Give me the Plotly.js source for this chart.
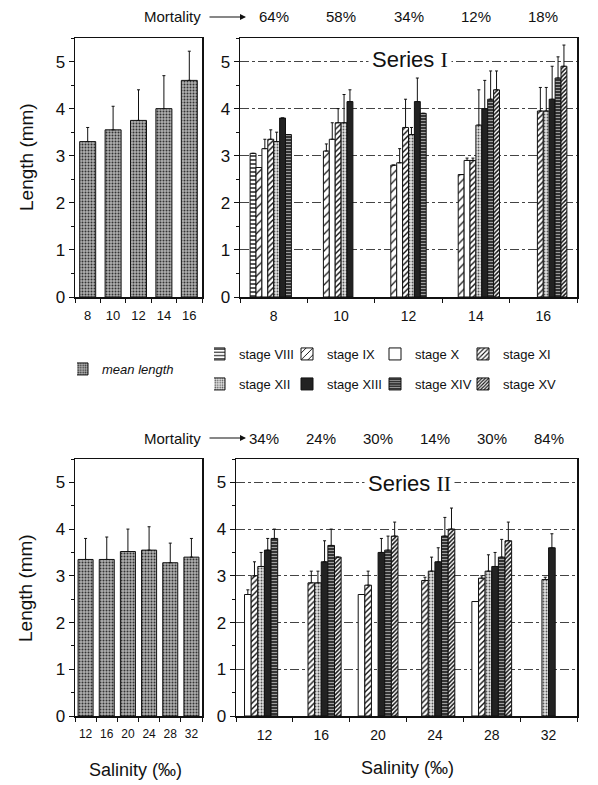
<!DOCTYPE html>
<html>
<head>
<meta charset="utf-8">
<script src="https://cdn.plot.ly/plotly-3.0.1.min.js"></script>
<style>
  html, body { margin: 0; padding: 0; background: #fff; }
  #chart { width: 598px; height: 785px; }
</style>
</head>
<body>
<div id="chart"></div>
<script>
// values (length in mm)
const salinityI = ["8", "10", "12", "14", "16"];
const meanI = [3.3, 3.55, 3.75, 4.0, 4.6];
const meanErrI = [0.3, 0.5, 0.65, 0.7, 0.62];
const mortalityI = ["64%", "58%", "34%", "12%", "18%"];

const salinityII = ["12", "16", "20", "24", "28", "32"];
const meanII = [3.35, 3.35, 3.52, 3.55, 3.28, 3.4];
const meanErrII = [0.45, 0.48, 0.48, 0.5, 0.42, 0.4];
const mortalityII = ["34%", "24%", "30%", "14%", "30%", "84%"];

const stageNames = ["stage VIII", "stage IX", "stage X", "stage XI",
  "stage XII", "stage XIII", "stage XIV", "stage XV"];

// series I: one row per stage (VIII..XV), one column per salinity
const lengthsI = [
  [3.05, null, null, null, null],
  [2.75, 3.1, 2.8, 2.6, null],
  [3.15, 3.35, 2.85, 2.9, null],
  [3.35, 3.7, 3.6, 2.9, 3.95],
  [3.3, 3.7, 3.45, 3.65, 3.95],
  [3.8, 4.15, 4.15, 4.0, 4.2],
  [3.45, null, 3.9, 4.2, 4.65],
  [null, null, null, 4.4, 4.9],
];
const errorsI = [
  [0, null, null, null, null],
  [0, 0.15, 0, 0, null],
  [0.2, 0.35, 0.3, 0.05, null],
  [0.2, 0.3, 0.6, 0.05, 0.5],
  [0.2, 0.6, 0.15, 0.75, 0.5],
  [0, 0.25, 0.5, 0.6, 0.7],
  [0, null, 0, 0.6, 0.45],
  [null, null, null, 0.4, 0.45],
];

// series II: stages X..XV only
const stagesII = [2, 3, 4, 5, 6, 7];
const lengthsII = [
  [2.6, null, 2.6, null, 2.45, null],
  [3.0, 2.85, 2.8, 2.9, 2.95, null],
  [3.2, 2.85, null, 3.1, 3.1, 2.92],
  [3.55, 3.3, 3.5, 3.3, 3.2, 3.6],
  [3.8, 3.65, 3.55, 3.85, 3.4, null],
  [null, 3.4, 3.85, 4.0, 3.75, null],
];
const errorsII = [
  [0.1, null, 0, null, 0, null],
  [0.3, 0.25, 0.3, 0.07, 0.05, null],
  [0.3, 0.25, null, 0.3, 0.35, 0.05],
  [0.25, 0.45, 0.3, 0.3, 0.3, 0.3],
  [0.2, 0.35, 0.3, 0.4, 0.38, null],
  [null, 0, 0.3, 0.45, 0.4, null],
];

const FONT = "Liberation Sans, Arial, sans-serif";
const INK = "#111";

const meanStyle = { color: "#aaa", pattern: { shape: ".", bgcolor: "#b0b0b0", fgcolor: "#333", size: 3, solidity: 0.35 } };
const stageStyles = [
  { color: "#fff", pattern: { shape: "-", bgcolor: "#fff", fgcolor: INK, size: 4, solidity: 0.35 } },
  { color: "#fff", pattern: { shape: "/", bgcolor: "#fff", fgcolor: INK, size: 6, solidity: 0.2 } },
  { color: "#fff" },
  { color: "#fff", pattern: { shape: "/", bgcolor: "#fff", fgcolor: INK, size: 4, solidity: 0.35 } },
  { color: "#ddd", pattern: { shape: ".", bgcolor: "#e2e2e2", fgcolor: "#555", size: 3, solidity: 0.3 } },
  { color: "#222" },
  { color: "#333", pattern: { shape: "-", bgcolor: "#333", fgcolor: "#aaa", size: 3, solidity: 0.3 } },
  { color: "#fff", pattern: { shape: "/", bgcolor: "#fff", fgcolor: INK, size: 3, solidity: 0.5 } },
];

function errBar(err) {
  return {
    type: "data", array: err, arrayminus: err.map(() => 0), symmetric: false,
    color: INK, thickness: 1, width: 1.5, visible: true,
  };
}

function px(x) { return x / 598; }
function py(y) { return 1 - y / 785; }

const data = [];

data.push({
  type: "bar", x: salinityI, y: meanI, width: 0.63,
  name: "<i>mean length</i>", legend: "legend",
  marker: Object.assign({ line: { color: INK, width: 1 } }, meanStyle),
  error_y: errBar(meanErrI), xaxis: "x", yaxis: "y",
});
data.push({
  type: "bar", x: salinityII, y: meanII, width: 0.71, showlegend: false,
  name: "mean length",
  marker: Object.assign({ line: { color: INK, width: 1 } }, meanStyle),
  error_y: errBar(meanErrII), xaxis: "x3", yaxis: "y3",
});

stageNames.forEach((name, i) => {
  data.push({
    type: "bar", x: salinityI, y: lengthsI[i], name: name,
    legend: i < 4 ? "legend2" : "legend3",
    marker: Object.assign({ line: { color: INK, width: 1 } }, stageStyles[i]),
    error_y: errBar(errorsI[i]), xaxis: "x2", yaxis: "y2",
  });
});

stagesII.forEach((s, j) => {
  data.push({
    type: "bar", x: salinityII, y: lengthsII[j], name: stageNames[s],
    showlegend: false,
    marker: Object.assign({ line: { color: INK, width: 1 } }, stageStyles[s]),
    error_y: errBar(errorsII[j]), xaxis: "x4", yaxis: "y4",
  });
});

function xAxis(domain, anchor, size, n) {
  return {
    domain: domain, anchor: anchor, type: "category", range: [-0.5, n - 0.5],
    tickson: "boundaries", ticks: "outside", ticklen: 4, tickcolor: INK, tickangle: 0,
    ticklabelstandoff: 6,
    showline: true, mirror: true, linecolor: INK, linewidth: 1.5,
    tickfont: { size: size, color: INK }, showgrid: false, fixedrange: true,
  };
}
function yAxis(domain, anchor, grid) {
  return {
    domain: domain, anchor: anchor, range: [0, 5.5], dtick: 1,
    ticks: "outside", ticklen: 5, tickcolor: INK,
    minor: { dtick: 0.5, ticks: "outside", ticklen: 3, tickcolor: INK },
    showline: true, mirror: true, linecolor: INK, linewidth: 1.5,
    tickfont: { size: 17, color: INK }, zeroline: false,
    showgrid: grid, gridcolor: "#444", gridwidth: 1, griddash: "dashdot",
  };
}

const topY = [py(297), py(38)];
const botY = [py(716), py(459)];

const annotations = [];
function note(x, y, text, extra) {
  annotations.push(Object.assign({ xref: "paper", yref: "paper", x: px(x), y: py(y),
    xanchor: "center", yanchor: "middle", text: text, showarrow: false }, extra));
}
function mortalityRow(labels, xref, y) {
  note(203, y, "Mortality", { xanchor: "right", font: { size: 15 } });
  annotations.push({ xref: "paper", yref: "paper", x: px(246), y: py(y), text: "",
    showarrow: true, ax: -38, ay: 0, arrowhead: 2, arrowsize: 1, arrowwidth: 1.2, arrowcolor: INK });
  // category index positions, so the labels sit over each salinity group
  labels.forEach((t, i) => annotations.push({ xref: xref, yref: "paper", x: i, y: py(y),
    xanchor: "center", yanchor: "middle", text: t, showarrow: false, font: { size: 15 } }));
}
mortalityRow(mortalityI, "x2", 17);
mortalityRow(mortalityII, "x4", 438);

note(410, 60, 'Series <span style="font-family:Liberation Serif">I</span>',
  { bgcolor: "#fff", borderpad: 3, font: { size: 22 } });
note(409, 483, 'Series <span style="font-family:Liberation Serif">II</span>',
  { bgcolor: "#fff", borderpad: 3, font: { size: 22 } });

note(27, 157, "Length (mm)", { textangle: -90, font: { size: 19 } });
note(25, 588, "Length (mm)", { textangle: -90, font: { size: 19 } });
note(135, 770, "Salinity (‰)", { font: { size: 18 } });
note(407, 768, "Salinity (‰)", { font: { size: 18 } });

const legendBase = { orientation: "h", yanchor: "middle", xanchor: "left",
  font: { size: 13, color: INK }, bgcolor: "rgba(0,0,0,0)",
  indentation: -15, entrywidth: 58,
  itemclick: false, itemdoubleclick: false };

const layout = {
  width: 598, height: 785,
  margin: { l: 0, r: 0, t: 0, b: 0 },
  paper_bgcolor: "#fff", plot_bgcolor: "#fff",
  font: { family: FONT, color: INK },
  barmode: "group", bargap: 0.3, bargroupgap: 0,
  xaxis: xAxis([px(75), px(202)], "y", 13, salinityI.length),
  yaxis: yAxis(topY, "x", false),
  xaxis2: xAxis([px(240), px(577)], "y2", 14, salinityI.length),
  yaxis2: yAxis(topY, "x2", true),
  xaxis3: xAxis([px(75), px(202)], "y3", 12, salinityII.length),
  yaxis3: yAxis(botY, "x3", false),
  xaxis4: xAxis([px(236), px(577)], "y4", 14, salinityII.length),
  yaxis4: yAxis(botY, "x4", true),
  legend: Object.assign({}, legendBase, { x: px(77), y: py(369), entrywidth: 90 }),
  legend2: Object.assign({}, legendBase, { x: px(214), y: py(354) }),
  legend3: Object.assign({}, legendBase, { x: px(214), y: py(384) }),
  annotations: annotations,
};

Plotly.newPlot("chart", data, layout, { staticPlot: true });
</script>
</body>
</html>
